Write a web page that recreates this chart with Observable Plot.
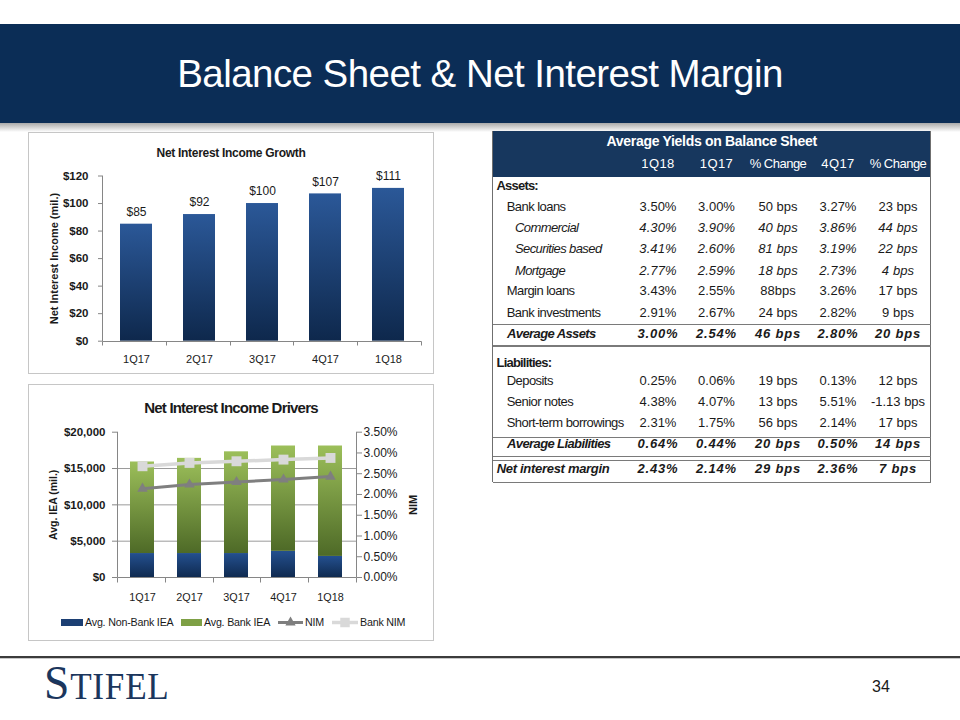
<!DOCTYPE html>
<html>
<head>
<meta charset="utf-8">
<script src="https://cdn.jsdelivr.net/npm/d3@7"></script>
<script src="https://cdn.jsdelivr.net/npm/@observablehq/plot@0.6"></script>
<style>
  html, body { margin: 0; padding: 0; background: #fff; }
  body { width: 960px; height: 720px; position: relative; overflow: hidden;
         font-family: "Liberation Sans", Arial, sans-serif; color: #1a1a1a; }
  .abs { position: absolute; }
  #banner { left: 0; top: 24px; width: 960px; height: 99px; background: #0b2d56; }
  #shadow { left: 0; top: 123px; width: 960px; height: 9px; background: linear-gradient(#a9a9a9, #ffffff); }
  #title { left: 0; top: 24px; width: 960px; height: 99px; line-height: 99px; text-align: center;
           color: #fff; font-size: 38.5px; letter-spacing: -0.55px; }
  .box { border: 1px solid #c6c6c6; box-sizing: border-box; background: #fff; }
  .ctitle { text-align: center; font-weight: bold; white-space: nowrap; }
  .cell { white-space: nowrap; height: 20px; line-height: 20px; font-size: 13px; }
  .num { text-align: center; width: 120px; }
  #footline { left: 0; top: 656px; width: 960px; height: 2px; background: #3c3c3c; }
  #footline2 { left: 0; top: 658px; width: 960px; height: 1px; background: #c8c8c8; }
  #logo { left: 44px; top: 659px; font-family: "Liberation Serif", "DejaVu Serif", serif; color: #1b365d;
          white-space: nowrap; line-height: 48px; letter-spacing: 0.8px; transform: scaleX(0.95); transform-origin: left center; }
  #page { left: 861px; top: 676px; width: 40px; text-align: center; font-size: 16px; line-height: 22px; color: #1a1a1a; }
</style>
</head>
<body>
<div id="banner" class="abs"></div>
<div id="shadow" class="abs"></div>
<div id="title" class="abs">Balance Sheet &amp; Net Interest Margin</div>

<div class="abs box" style="left:28px; top:132px; width:406px; height:242px;"></div>
<div id="c1" class="abs" style="left:28px; top:132px; width:406px; height:241px;"></div>
<div class="abs ctitle" style="left:28px; top:144px; width:406px; font-size:12px; line-height:18px; letter-spacing:-0.3px;">Net Interest Income Growth</div>

<div class="abs box" style="left:28px; top:384px; width:406px; height:257px;"></div>
<div id="c2" class="abs" style="left:28px; top:384px; width:406px; height:257px;"></div>
<div class="abs ctitle" style="left:28px; top:398px; width:406px; font-size:15px; line-height:20px; letter-spacing:-0.8px;">Net Interest Income Drivers</div>

<svg id="legend" class="abs" style="left:0; top:600px;" width="460" height="40"></svg>

<div id="table" class="abs" style="left:0; top:0; width:960px; height:500px;"></div>

<div id="footline" class="abs"></div>
<div id="footline2" class="abs"></div>
<div id="logo" class="abs"><span style="font-size:48px;">S</span><span style="font-size:37px;">TIFEL</span></div>
<div id="page" class="abs">34</div>

<script>
// ---------------- DATA ----------------
const quarters = ["1Q17", "2Q17", "3Q17", "4Q17", "1Q18"];
const netInterestIncome = [85, 92, 100, 107, 111];          // $ mil.
const growthTicks = [0, 20, 40, 60, 80, 100, 120];

const nonBankIEA = [3300, 3300, 3300, 3600, 2900];           // $ mil.
const bankIEA = [12600, 13100, 14000, 14500, 15200];         // $ mil.
const nimPct = [2.14, 2.24, 2.30, 2.36, 2.43];               // %
const bankNimPct = [2.68, 2.76, 2.80, 2.84, 2.88];           // %
const ieaTicks = [0, 5000, 10000, 15000, 20000];
const nimTicks = [0, 0.5, 1, 1.5, 2, 2.5, 3, 3.5];
const legendLabels = ["Avg. Non-Bank IEA", "Avg. Bank IEA", "NIM", "Bank NIM"];

const tableTitle = "Average Yields on Balance Sheet";
const tableColumns = ["1Q18", "1Q17", "% Change", "4Q17", "% Change"];
const rowLabels = ["Assets:", "Bank loans", "Commercial", "Securities based", "Mortgage", "Margin loans",
  "Bank investments", "Average Assets", "Liabilities:", "Deposits", "Senior notes",
  "Short-term borrowings", "Average Liabilities", "Net interest margin"];
const yield1Q18 = ["", "3.50%", "4.30%", "3.41%", "2.77%", "3.43%", "2.91%", "3.00%", "", "0.25%", "4.38%", "2.31%", "0.64%", "2.43%"];
const yield1Q17 = ["", "3.00%", "3.90%", "2.60%", "2.59%", "2.55%", "2.67%", "2.54%", "", "0.06%", "4.07%", "1.75%", "0.44%", "2.14%"];
const changeYoY = ["", "50 bps", "40 bps", "81 bps", "18 bps", "88bps", "24 bps", "46 bps", "", "19 bps", "13 bps", "56 bps", "20 bps", "29 bps"];
const yield4Q17 = ["", "3.27%", "3.86%", "3.19%", "2.73%", "3.26%", "2.82%", "2.80%", "", "0.13%", "5.51%", "2.14%", "0.50%", "2.36%"];
const changeQoQ = ["", "23 bps", "44 bps", "22 bps", "4 bps", "17 bps", "9 bps", "20 bps", "", "12 bps", "-1.13 bps", "17 bps", "14 bps", "7 bps"];

// ---------------- helpers ----------------
const ns = "http://www.w3.org/2000/svg";
function el(name, attrs) {
  const e = document.createElementNS(ns, name);
  for (const k in attrs) e.setAttribute(k, attrs[k]);
  return e;
}
function gradients(list) {
  return () => {
    const defs = el("defs", {});
    for (const [id, top, bottom] of list) {
      const g = el("linearGradient", {id, x1: 0, y1: 0, x2: 0, y2: 1});
      g.appendChild(el("stop", {offset: "0", "stop-color": top}));
      g.appendChild(el("stop", {offset: "1", "stop-color": bottom}));
      defs.appendChild(g);
    }
    return defs;
  };
}
function frameLines({left = true, right = false, n = 5, tickLen = 4, color = "#868686"}) {
  return (index, scales, values, dims) => {
    const {width, height, marginLeft: ml, marginRight: mr, marginTop: mt, marginBottom: mb} = dims;
    const g = el("g", {stroke: color, "stroke-width": 1, fill: "none"});
    const x0 = Math.round(ml) + 0.5, x1 = Math.round(width - mr) + 0.5;
    const y0 = mt, y1 = Math.round(height - mb) + 0.5;
    if (left) g.appendChild(el("line", {x1: x0, x2: x0, y1: y0, y2: y1}));
    if (right) g.appendChild(el("line", {x1: x1, x2: x1, y1: y0, y2: y1}));
    g.appendChild(el("line", {x1: x0, x2: x1, y1: y1, y2: y1}));
    const step = (x1 - x0) / n;
    for (let i = 0; i <= n; i++) {
      const x = Math.round(x0 + i * step - 0.5) + 0.5;
      g.appendChild(el("line", {x1: x, x2: x, y1: y1, y2: y1 + tickLen}));
    }
    return g;
  };
}
const font = "Liberation Sans, Arial, sans-serif";

// ---------------- Chart 1 ----------------
const growthData = quarters.map((q, i) => ({q, v: netInterestIncome[i]}));
const chart1 = Plot.plot({
  width: 406, height: 241,
  marginLeft: 74, marginRight: 13, marginTop: 43.5, marginBottom: 32.3,
  style: {fontFamily: font, color: "#1a1a1a", background: "transparent", overflow: "visible"},
  x: {domain: quarters, paddingInner: 0.5, paddingOuter: 0.25},
  y: {domain: [0, d3.max(growthTicks)]},
  marks: [
    gradients([["gNII", "#2b5898", "#0e284c"]]),
    Plot.barY(growthData, {x: "q", y: "v", fill: "url(#gNII)"}),
    frameLines({left: true, n: quarters.length, tickLen: 4}),
    Plot.axisY(growthTicks, {tickSize: 4, tickPadding: 10, tickFormat: d => "$" + d,
      fontSize: 11.5, fontWeight: "bold", stroke: "#868686", fill: "#1a1a1a", label: null}),
    Plot.axisX({tickSize: 0, tickPadding: 14, fontSize: 11, fill: "#1a1a1a", label: null}),
    Plot.text(growthData, {x: "q", y: "v", text: d => "$" + d.v, dy: -12, fontSize: 12, fill: "#1a1a1a"}),
    Plot.text(["Net Interest Income (mil.)"], {text: d => d, frameAnchor: "left", textAnchor: "middle", dx: -48, rotate: -90,
      fontSize: 11, fontWeight: "bold", fill: "#1a1a1a"})
  ]
});
document.getElementById("c1").appendChild(chart1);

// ---------------- Chart 2 ----------------
const k = d3.max(ieaTicks) / d3.max(nimTicks);
const ieaData = quarters.map((q, i) => ({q, nb: nonBankIEA[i], b: bankIEA[i], nim: nimPct[i], bank: bankNimPct[i]}));
const chart2 = Plot.plot({
  width: 406, height: 257,
  marginLeft: 89, marginRight: 78, marginTop: 47.7, marginBottom: 64,
  style: {fontFamily: font, color: "#1a1a1a", background: "transparent", overflow: "visible"},
  x: {domain: quarters, paddingInner: 0.48, paddingOuter: 0.24},
  y: {domain: [0, d3.max(ieaTicks)]},
  marks: [
    gradients([["gNavy2", "#24508f", "#0f2a50"], ["gGreen", "#9cbf5a", "#4e6a27"]]),
    Plot.ruleY(ieaTicks.filter(t => t > 0 && t < d3.max(ieaTicks)), {stroke: "#9a9a9a"}),
    Plot.barY(ieaData, {x: "q", y1: 0, y2: "nb", fill: "url(#gNavy2)"}),
    Plot.barY(ieaData, {x: "q", y1: "nb", y2: d => d.nb + d.b, fill: "url(#gGreen)"}),
    frameLines({left: true, right: true, n: quarters.length, tickLen: 5}),
    Plot.axisY(ieaTicks, {anchor: "left", tickSize: 5, tickPadding: 7, tickFormat: d => "$" + d3.format(",")(d),
      fontSize: 11.5, fontWeight: "bold", stroke: "#868686", fill: "#1a1a1a", label: null}),
    Plot.axisY(nimTicks.map(t => t * k), {anchor: "right", tickSize: 5, tickPadding: 2,
      tickFormat: d => (d / k).toFixed(2) + "%", fontSize: 12, stroke: "#868686", fill: "#1a1a1a", label: null}),
    Plot.axisX({tickSize: 0, tickPadding: 15.5, fontSize: 10.8, fill: "#1a1a1a", label: null}),
    Plot.line(ieaData, {x: "q", y: d => d.bank * k, stroke: "#d9d9d9", strokeWidth: 3.5}),
    Plot.dot(ieaData, {x: "q", y: d => d.bank * k, symbol: "square", r: 5.6, fill: "#d9d9d9"}),
    Plot.line(ieaData, {x: "q", y: d => d.nim * k, stroke: "#7f7f7f", strokeWidth: 3}),
    Plot.dot(ieaData, {x: "q", y: d => d.nim * k, symbol: "triangle", r: 3.9, fill: "#7f7f7f"}),
    Plot.text(["Avg. IEA (mil.)"], {text: d => d, frameAnchor: "left", textAnchor: "middle", dx: -64, rotate: -90,
      fontSize: 10.5, fontWeight: "bold", fill: "#1a1a1a"}),
    Plot.text(["NIM"], {text: d => d, frameAnchor: "right", textAnchor: "middle", dx: 57, rotate: -90,
      fontSize: 11, fontWeight: "bold", fill: "#1a1a1a"})
  ]
});
document.getElementById("c2").appendChild(chart2);

// ---------------- Legend ----------------
(function () {
  const svg = d3.select("#legend");
  const cy = 22.5;
  const items = [
    {type: "rect", x0: 61, x1: 83, color: "#1c3f73", tx: 85},
    {type: "rect", x0: 181, x1: 202, color: "#7ea045", tx: 204},
    {type: "line", x0: 278, x1: 303, color: "#7f7f7f", sym: d3.symbolTriangle, size: 46, w: 3, tx: 305},
    {type: "line", x0: 332, x1: 358, color: "#d9d9d9", sym: d3.symbolSquare, size: 90, w: 3.5, tx: 360}
  ];
  items.forEach((it, i) => {
    if (it.type === "rect") {
      svg.append("rect").attr("x", it.x0).attr("y", cy - 3.5).attr("width", it.x1 - it.x0).attr("height", 7).attr("fill", it.color);
    } else {
      svg.append("line").attr("x1", it.x0).attr("x2", it.x1).attr("y1", cy).attr("y2", cy)
        .attr("stroke", it.color).attr("stroke-width", it.w);
      svg.append("path").attr("d", d3.symbol(it.sym, it.size)()).attr("fill", it.color)
        .attr("transform", `translate(${(it.x0 + it.x1) / 2},${cy})`);
    }
    svg.append("text").attr("x", it.tx).attr("y", cy + 3.8).attr("font-size", 10.7)
      .attr("font-family", font).attr("letter-spacing", "-0.2px").attr("fill", "#1a1a1a").text(legendLabels[i]);
  });
})();

// ---------------- Table ----------------
(function () {
  const T = document.getElementById("table");
  const L = 492.7, R = 930.7, top = 131, headBottom = 176.7, bottom = 482.3;
  function div(style, text, cls) {
    const d = document.createElement("div");
    d.className = "abs " + (cls || "");
    Object.assign(d.style, style);
    if (text != null) d.textContent = text;
    T.appendChild(d);
    return d;
  }
  div({left: L + "px", top: top + "px", width: (R - L) + "px", height: (headBottom - top) + "px", background: "#17375e"});
  div({left: L + "px", top: (141 - 10) + "px", width: (R - L) + "px", textAlign: "center", color: "#fff",
       fontWeight: "bold", fontSize: "14px", letterSpacing: "-0.3px"}, tableTitle, "cell");
  const colCenters = [658, 716.5, 778, 838, 898];
  tableColumns.forEach((c, j) => {
    div({left: (colCenters[j] - 60) + "px", top: (163.7 - 10) + "px", color: "#fff", letterSpacing: c.startsWith("%") ? "-0.5px" : "0.4px"}, c, "cell num");
  });
  div({left: (L - 0.75) + "px", top: top + "px", width: "1.5px", height: (bottom - top) + "px", background: "#6f6f6f"});
  div({left: (R - 0.75) + "px", top: top + "px", width: "1.5px", height: (bottom - top) + "px", background: "#6f6f6f"});
  const hl = [[324, 1], [345, 2], [437, 1], [456, 1], [459.5, 1], [481.5, 1.5]];
  hl.forEach(([y, h]) => div({left: L + "px", top: y + "px", width: (R - L) + "px", height: h + "px", background: "#7a7a7a"}));

  const rowCenters = [186.3, 207, 228, 249.3, 270.7, 291.3, 313.3, 334.3, 362.7, 380.7, 401.7, 423.3, 444.3, 469];
  const sections = new Set(["Assets:", "Liabilities:"]);
  const subItems = new Set(["Commercial", "Securities based", "Mortgage"]);
  const totals = new Set(["Average Assets", "Average Liabilities", "Net interest margin"]);
  const cols = [yield1Q18, yield1Q17, changeYoY, yield4Q17, changeQoQ];
  rowLabels.forEach((lab, i) => {
    const cy = rowCenters[i];
    let x = 506.7, st = {letterSpacing: "-0.55px"};
    if (sections.has(lab)) { x = 496.5; st = {fontWeight: "bold", letterSpacing: "-0.8px"}; }
    else if (subItems.has(lab)) { x = 515; st = {fontStyle: "italic", letterSpacing: "-0.6px"}; }
    else if (lab === "Net interest margin") { x = 496.7; st = {fontWeight: "bold", fontStyle: "italic", letterSpacing: "-0.3px"}; }
    else if (totals.has(lab)) { x = 507; st = {fontWeight: "bold", fontStyle: "italic", letterSpacing: "-0.6px"}; }
    div(Object.assign({left: x + "px", top: (cy - 10) + "px"}, st), lab, "cell");
    cols.forEach((col, j) => {
      const v = col[i];
      if (!v) return;
      let ns2 = {letterSpacing: "0px"};
      if (subItems.has(lab)) ns2 = {fontStyle: "italic", letterSpacing: "0.1px"};
      if (totals.has(lab)) ns2 = {fontWeight: "bold", fontStyle: "italic", letterSpacing: "0.8px"};
      div(Object.assign({left: (colCenters[j] - 60) + "px", top: (cy - 10) + "px"}, ns2), v, "cell num");
    });
  });
})();
</script>
</body>
</html>
